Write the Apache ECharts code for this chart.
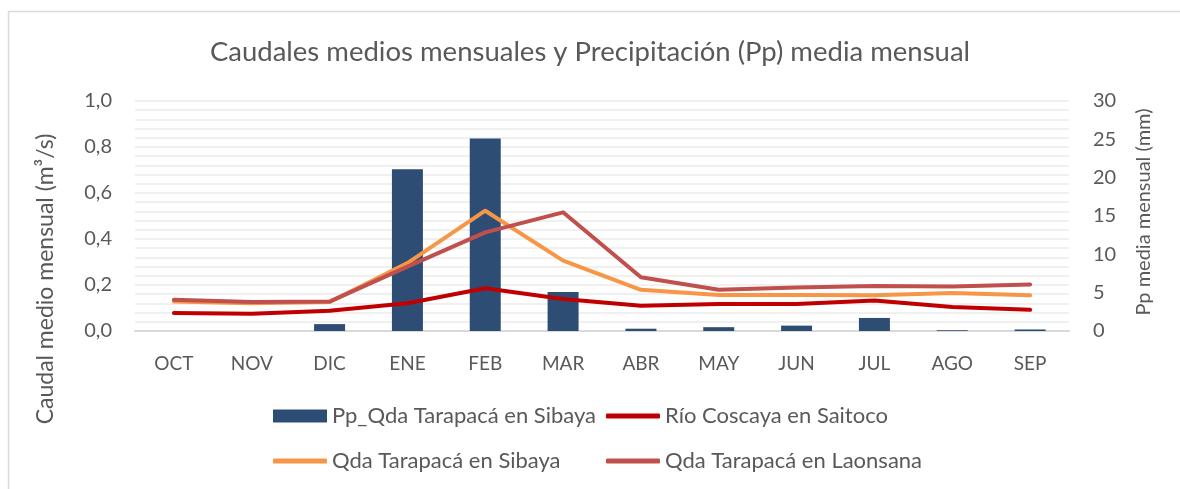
<!DOCTYPE html>
<html>
<head>
<meta charset="utf-8">
<script src="https://cdn.jsdelivr.net/npm/echarts@6/dist/echarts.min.js"></script>
<style>
  html, body { margin: 0; padding: 0; background: #fff; }
  #chart { width: 1180px; height: 489px; }
</style>
</head>
<body>
<div id="chart"></div>
<script>
// months (hydrological year)
const categories = ['OCT', 'NOV', 'DIC', 'ENE', 'FEB', 'MAR', 'ABR', 'MAY', 'JUN', 'JUL', 'AGO', 'SEP']

// precipitation, mm (right axis)
const ppSibaya = [0, 0, 0.9, 21.1, 25.1, 5.1, 0.3, 0.5, 0.7, 1.7, 0.1, 0.2]

// flows, m3/s (left axis)
const rioCoscaya = [0.078, 0.075, 0.088, 0.121, 0.186, 0.139, 0.110, 0.117, 0.117, 0.133, 0.104, 0.092]
const qdaSibaya = [0.128, 0.121, 0.126, 0.295, 0.523, 0.306, 0.179, 0.157, 0.157, 0.155, 0.165, 0.155]
const qdaLaonsana = [0.136, 0.126, 0.128, 0.280, 0.429, 0.516, 0.234, 0.179, 0.189, 0.196, 0.193, 0.202]

const leftTicks = [0, 1, 0.2]   // min, max, interval
const rightTicks = [0, 30, 5]

const names = ['Pp_Qda Tarapacá en Sibaya', 'Río Coscaya en Saitoco', 'Qda Tarapacá en Sibaya', 'Qda Tarapacá en Laonsana']
const colors = ['#2E4D75', '#C00000', '#F79646', '#C0504D']

const font = 'Lato, "Open Sans", sans-serif'
const txt = '#595959'

const chart = echarts.init(document.getElementById('chart'))

// one legend per item so the 2x2 layout matches
function legendAt(name, left, top, isBar) {
    return {
        data: [name],
        left: left,
        top: top,
        padding: 0,
        icon: isBar ? 'rect' : 'roundRect',
        itemWidth: 54,
        itemHeight: isBar ? 13 : 5,
        itemGap: 0,
        textStyle: { color: txt, fontSize: 22, fontFamily: font }
    }
}

function lineSeries(i, data) {
    return {
        type: 'line',
        name: names[i],
        yAxisIndex: 0,
        data: data,
        symbol: 'none',
        lineStyle: { color: colors[i], width: 4, cap: 'round', join: 'round' },
        itemStyle: { color: colors[i] },
        z: 3 + i
    }
}

const option = {
    animation: false,
    backgroundColor: '#fff',
    title: {
        text: 'Caudales medios mensuales y Precipitación (Pp) media mensual',
        left: 'center',
        top: 33,
        textStyle: { color: txt, fontSize: 27.5, fontWeight: 'normal', fontFamily: font }
    },
    grid: { left: 135, right: 111, top: 101, bottom: 158 },
    legend: [
        legendAt(names[0], 273, 405, true),
        legendAt(names[1], 606, 405, false),
        legendAt(names[2], 273, 450, false),
        legendAt(names[3], 606, 450, false)
    ],
    graphic: [
        {
            type: 'rect',
            shape: { x: 8.5, y: 11.5, width: 1200, height: 600 },
            style: { fill: null, stroke: '#d9d9d9', lineWidth: 1.5 },
            silent: true
        },
        {
            type: 'text',
            x: 46, y: 279,
            rotation: Math.PI / 2,
            style: {
                text: 'Caudal medio mensual (m³/s)',
                fill: txt, fontSize: 23, fontFamily: font,
                align: 'center', verticalAlign: 'middle'
            }
        },
        {
            type: 'text',
            x: 1144, y: 212,
            rotation: Math.PI / 2,
            style: {
                text: 'Pp media mensual (mm)',
                fill: txt, fontSize: 20, fontFamily: font,
                align: 'center', verticalAlign: 'middle'
            }
        }
    ],
    xAxis: {
        type: 'category',
        data: categories,
        axisLine: { lineStyle: { color: '#d9d9d9', width: 2 } },
        axisTick: { show: false },
        axisLabel: { color: txt, fontSize: 19, fontFamily: font, margin: 23 }
    },
    yAxis: [
        {
            type: 'value',
            min: leftTicks[0],
            max: leftTicks[1],
            interval: leftTicks[2],
            axisLine: { show: false },
            axisTick: { show: false },
            axisLabel: {
                color: txt, fontSize: 20, fontFamily: font, margin: 23,
                formatter: v => v.toFixed(1).replace('.', ',')
            },
            splitLine: { lineStyle: { color: '#f0f0f0', width: 2 } },
            minorTick: { show: false, splitNumber: 5 },
            minorSplitLine: { show: true, lineStyle: { color: '#f0f0f0', width: 2 } }
        },
        {
            type: 'value',
            min: rightTicks[0],
            max: rightTicks[1],
            interval: rightTicks[2],
            axisLine: { show: false },
            axisTick: { show: false },
            splitLine: { show: false },
            axisLabel: { color: txt, fontSize: 20, fontFamily: font, margin: 24 }
        }
    ],
    series: [
        {
            type: 'bar',
            name: names[0],
            yAxisIndex: 1,
            data: ppSibaya,
            barWidth: 31,
            itemStyle: { color: colors[0] },
            z: 2
        },
        lineSeries(1, rioCoscaya),
        lineSeries(2, qdaSibaya),
        lineSeries(3, qdaLaonsana)
    ]
}

chart.setOption(option)
</script>
</body>
</html>
